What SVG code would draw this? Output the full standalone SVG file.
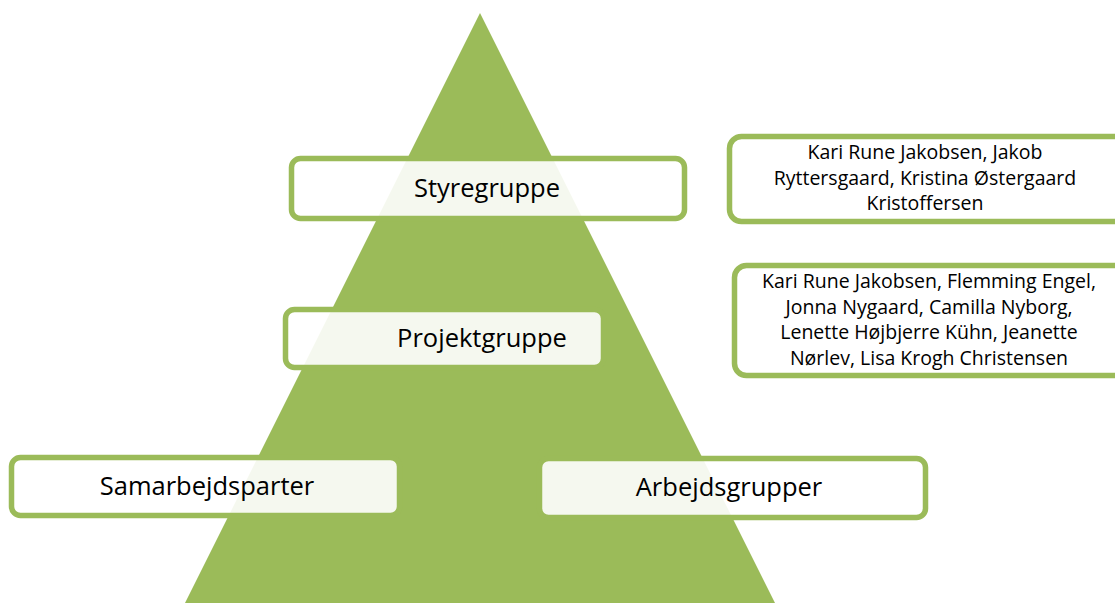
<svg xmlns="http://www.w3.org/2000/svg" width="1115" height="603" viewBox="0 0 1115 603">
<style>
.box{fill:#ffffff;fill-opacity:0.9;stroke:#9bbb59;stroke-width:5.5}
.t{font-family:"Open Sans","Noto Sans",sans-serif;fill:#000;text-anchor:middle}
.big{font-size:25.5px}
.small{font-size:19.5px}
</style>
<rect width="1115" height="603" fill="#ffffff"/>
<g id="pyramid"><polygon points="480,13 775,603 185,603" fill="#9bbb59"/></g>
<g id="connectors"></g>
<g id="styregruppe">
<rect class="box" x="291.5" y="158.5" width="393" height="60" rx="9"/>
<text class="t big" x="487" y="197">Styregruppe</text>
</g>
<g id="projektgruppe">
<rect class="box" x="285.5" y="309.5" width="318" height="58" rx="9"/>
<text class="t big" x="482" y="347">Projektgruppe</text>
</g>
<g id="samarbejdsparter">
<rect class="box" x="11.5" y="457.5" width="388" height="58" rx="9"/>
<text class="t big" x="207" y="495">Samarbejdsparter</text>
</g>
<g id="arbejdsgrupper">
<rect class="box" x="539.5" y="458.5" width="386" height="59" rx="9"/>
<text class="t big" x="729" y="496">Arbejdsgrupper</text>
</g>
<g id="styre-members">
<rect class="box" x="729.5" y="136.5" width="400" height="85" rx="12"/>
<text class="t small" x="925" y="159">Kari Rune Jakobsen, Jakob</text>
<text class="t small" x="925" y="184.5">Ryttersgaard, Kristina Østergaard</text>
<text class="t small" x="925" y="210">Kristoffersen</text>
</g>
<g id="projekt-members">
<rect class="box" x="734.5" y="265.5" width="400" height="110" rx="12"/>
<text class="t small" x="929" y="288">Kari Rune Jakobsen, Flemming Engel,</text>
<text class="t small" x="929" y="313.5">Jonna Nygaard, Camilla Nyborg,</text>
<text class="t small" x="929" y="339">Lenette Højbjerre Kühn, Jeanette</text>
<text class="t small" x="929" y="364.5">Nørlev, Lisa Krogh Christensen</text>
</g>
</svg>
